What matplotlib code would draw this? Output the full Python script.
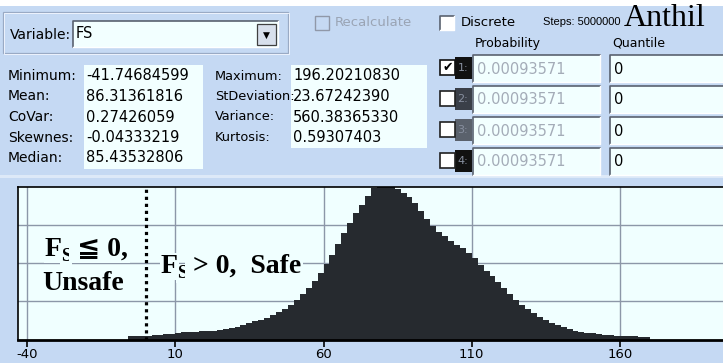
import numpy as np
import matplotlib
matplotlib.use("Agg")
import matplotlib.pyplot as plt
from matplotlib.patches import Rectangle
from matplotlib.transforms import IdentityTransform

# ---------------- data ----------------
stat_labels_left = ["Minimum:", "Mean:", "CoVar:", "Skewnes:", "Median:"]
stat_values_left = ["-41.74684599", "86.31361816", "0.27426059", "-0.04333219", "85.43532806"]
stat_labels_right = ["Maximum:", "StDeviation:", "Variance:", "Kurtosis:"]
stat_values_right = ["196.20210830", "23.67242390", "560.38365330", "0.59307403"]
prob_values = ["0.00093571", "0.00093571", "0.00093571", "0.00093571"]
quant_values = ["0", "0", "0", "0"]
row_numbers = ["1:", "2:", "3:", "4:"]

# histogram of FS (relative frequency, peak = 1), bins of width 2 starting at -6
bin_start = -6
bin_width = 2
hist_heights = [0.020, 0.022, 0.024, 0.026, 0.028, 0.030, 0.033, 0.038, 0.045, 0.047,
                0.049, 0.051, 0.053, 0.055, 0.058, 0.060, 0.066, 0.073, 0.082, 0.093,
                0.105, 0.118, 0.130, 0.143, 0.158, 0.178, 0.198, 0.225, 0.260, 0.298,
                0.336, 0.385, 0.435, 0.495, 0.555, 0.625, 0.695, 0.760, 0.825, 0.880,
                0.940, 0.990, 1.000, 1.000, 1.000, 0.985, 0.955, 0.930, 0.890, 0.840,
                0.790, 0.745, 0.705, 0.675, 0.645, 0.620, 0.595, 0.565, 0.530, 0.485,
                0.448, 0.412, 0.375, 0.335, 0.295, 0.260, 0.228, 0.200, 0.172, 0.148,
                0.127, 0.109, 0.094, 0.080, 0.069, 0.058, 0.050, 0.045, 0.040, 0.036,
                0.032, 0.029, 0.026, 0.024, 0.022, 0.020, 0.018, 0.017]
x_ticks = [-40, 10, 60, 110, 160]
limit_value = 0

W, H = 723, 363
BG = "#C5D9F3"
PLOT_BG = "#F0FFFF"
BOX_BG = "#F2FFFF"
DARK = "#262A2F"
GRID = "#8C97A8"

fig = plt.figure(figsize=(W / 100, H / 100), dpi=100)
fig.patch.set_facecolor(BG)

ui = fig.add_axes([0, 0, 1, 1], zorder=0)
ui.set_xlim(0, W)
ui.set_ylim(H, 0)
ui.axis("off")

def rect(x0, y0, x1, y1, fc="none", ec="none", lw=1.0, z=1):
    ui.add_patch(Rectangle((x0, y0), x1 - x0, y1 - y0, facecolor=fc, edgecolor=ec,
                           linewidth=lw, zorder=z))

def sunken(x0, y0, x1, y1, fc=BOX_BG):
    rect(x0, y0, x1, y1, fc=fc)
    ui.plot([x0, x0, x1], [y1, y0, y0], color="#5A6270", lw=1.2, zorder=2)
    ui.plot([x0, x1, x1], [y1, y1, y0], color="#FFFFFF", lw=1.0, zorder=2)

SANS = ["DejaVu Sans"]
ARIAL = ["Liberation Sans", "DejaVu Sans"]

# top strip
rect(0, 0, W, 6, fc="white")
rect(0, 175, W, 178, fc="#DDE9F8")

# group box for Variable
rect(3, 12, 288, 53, ec="#9AAAC4", lw=0.9)
rect(4, 13, 289, 54, ec="#F4F8FF", lw=0.6)
ui.text(10, 35, "Variable:", fontsize=10, family=SANS, va="center", ha="left", color="black")
sunken(73, 21, 278, 47)
ui.text(76, 34, "FS", fontsize=10.5, family=SANS, va="center", ha="left", color="black")
rect(257, 24, 276, 45, fc="#D8E0EC", ec="#404040", lw=0.9, z=3)
ui.text(266.5, 35, "\u25BC", fontsize=6.5, family=SANS, va="center", ha="center", color="black", zorder=4)

# Recalculate (disabled)
rect(315, 16, 329, 30, fc="none", ec="#9098A8", lw=1.0)
ui.text(335, 22, "Recalculate", fontsize=9.5, family=SANS, va="center", ha="left", color="#9AA4B4")
# Discrete
sunken(440, 16, 454, 30, fc="white")
ui.text(461, 23, "Discrete", fontsize=9.5, family=SANS, va="center", ha="left", color="black")
ui.text(543, 22, "Steps: 5000000", fontsize=8, family=ARIAL, va="center", ha="left", color="black")
ui.text(624, 26, "Anthil", fontsize=23, family=["Liberation Serif", "DejaVu Serif"],
        va="baseline", ha="left", color="black")
ui.text(475, 43, "Probability", fontsize=9, family=SANS, va="center", ha="left", color="black")
ui.text(612, 43, "Quantile", fontsize=9, family=SANS, va="center", ha="left", color="black")

# probability rows
row_tops = [55, 86, 117, 148]
block_cols = ["#111111", "#3A3F48", "#5A616C", "#111111"]
for i, y0 in enumerate(row_tops):
    rect(455, y0 + 2, 472, y0 + 24, fc=block_cols[i])
    ui.text(463, y0 + 13, row_numbers[i], fontsize=8, family=SANS, va="center", ha="center",
            color="#8890A0", zorder=3)
    if i == 0:
        rect(440, y0 + 5, 455, y0 + 20, fc="white", ec="#111111", lw=1.2, z=3)
        ui.text(447.5, y0 + 13, "\u2714", fontsize=9, family=SANS, va="center", ha="center",
                color="black", zorder=4)
    else:
        rect(440, y0 + 5, 455, y0 + 20, fc="white", ec="#202020", lw=1.2, z=3)
    sunken(473, y0, 600, y0 + 27)
    ui.text(477, y0 + 14, prob_values[i], fontsize=10.5, family=SANS, va="center", ha="left",
            color="#A4ACB8", zorder=3)
    sunken(610, y0, 735, y0 + 27)
    ui.text(614, y0 + 14, quant_values[i], fontsize=10.5, family=SANS, va="center", ha="left",
            color="black", zorder=3)

# statistics
rect(84, 65, 203, 169, fc=BOX_BG)
rect(291, 65, 427, 148, fc=BOX_BG)
row_y = [76, 96.5, 117, 137.5, 158]
for i, (lab, val) in enumerate(zip(stat_labels_left, stat_values_left)):
    ui.text(8, row_y[i], lab, fontsize=10, family=SANS, va="center", ha="left", color="black")
    ui.text(86, row_y[i], val, fontsize=10.5, family=SANS, va="center", ha="left", color="black")
for i, (lab, val) in enumerate(zip(stat_labels_right, stat_values_right)):
    ui.text(215, row_y[i], lab, fontsize=9.3, family=SANS, va="center", ha="left", color="black")
    ui.text(293, row_y[i], val, fontsize=10.5, family=SANS, va="center", ha="left", color="black")

# ---------------- histogram ----------------
px_per_unit = (620 - 27) / 200.0
x_left = -40 - (27 - 18) / px_per_unit
x_right = 199.0
ax_w_px = (x_right - x_left) * px_per_unit
top_px, bot_px = 186.5, 339.5
ax = fig.add_axes([18 / W, (H - bot_px) / H, ax_w_px / W, (bot_px - top_px) / H], zorder=1)
ax.set_facecolor(PLOT_BG)
edges = bin_start + bin_width * np.arange(len(hist_heights) + 1)
ax.stairs(hist_heights, edges, fill=True, color=DARK, zorder=2)
ax.set_xlim(x_left, x_right)
ax.set_ylim(0, 1.0)
ax.set_xticks(x_ticks)
ax.set_xticklabels([str(t) for t in x_ticks], fontsize=9.5, family=SANS)
ax.set_yticks([0.25, 0.5, 0.75])
ax.set_yticklabels([])
ax.tick_params(axis="y", length=0)
ax.tick_params(axis="x", direction="out", length=5, width=1.2, color="black", pad=1)
ax.grid(True, color=GRID, lw=1.0)
ax.set_axisbelow(True)
for s in ["left", "top", "right"]:
    ax.spines[s].set_color("black")
    ax.spines[s].set_linewidth(1.2)
ax.spines["bottom"].set_color("black")
ax.spines["bottom"].set_linewidth(2.0)
ax.axvline(limit_value, color="black", lw=2.3, linestyle=(0, (1.0, 1.2)), zorder=3)

# annotation texts (pixel coordinates)
SERIF = ["Liberation Serif", "DejaVu Serif", "DejaVu Sans"]
renderer = fig.canvas.get_renderer()

def seq_text(x_px, base_px, pieces):
    x = x_px
    for s, size, dy in pieces:
        t = fig.text(x, H - base_px - dy, s, transform=IdentityTransform(), fontsize=size,
                     family=SERIF, weight="bold", va="baseline", ha="left", color="black",
                     zorder=5,
                     bbox=dict(boxstyle="square,pad=0.05", fc=PLOT_BG, ec="none"))
        bb = t.get_window_extent(renderer=renderer)
        x = bb.x1 - 1

seq_text(45, 256, [("F", 20, 0), ("S", 13.5, 5), (" \u2266 0,", 20, 0)])
seq_text(42, 290, [("Unsafe", 20, 0)])
seq_text(161, 273, [("F", 20, 0), ("S", 13.5, 5), (" > 0,  Safe", 20, 0)])

fig.savefig("out.png", dpi=100, facecolor=BG)
